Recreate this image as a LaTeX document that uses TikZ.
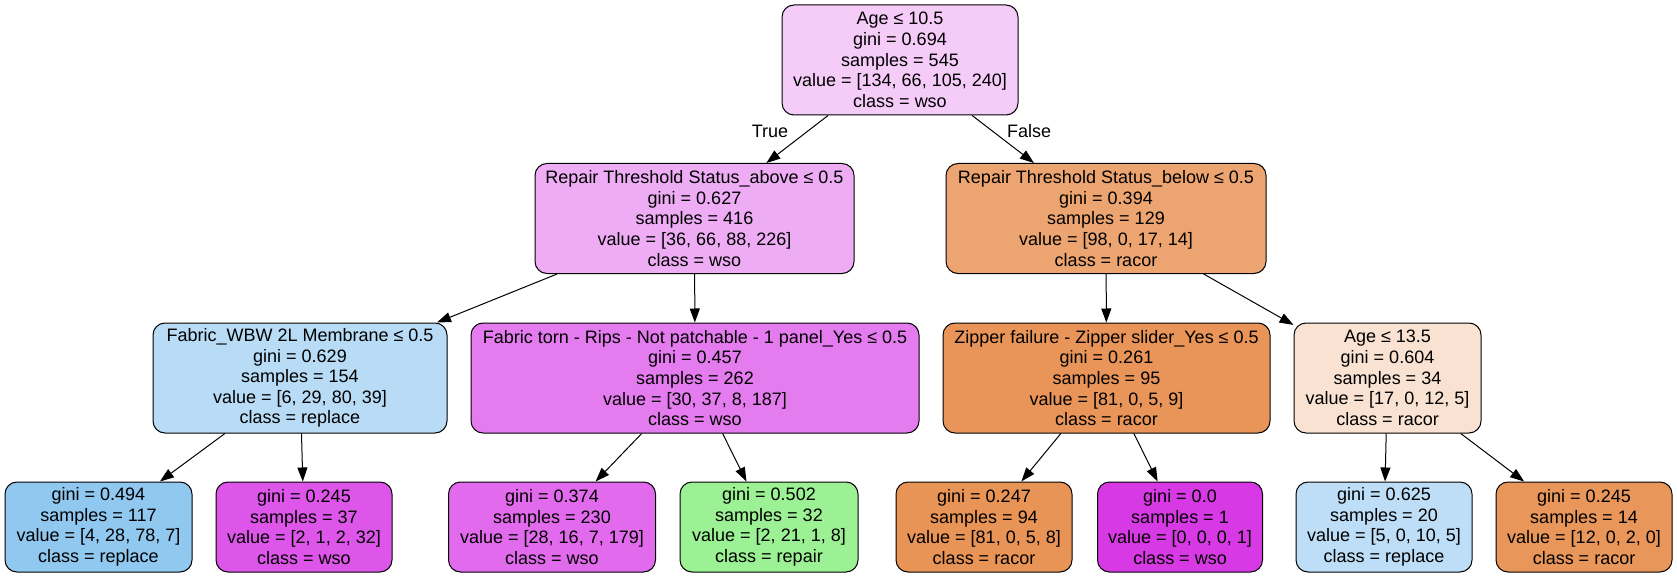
\documentclass[tikz,border=0pt]{standalone}
\usepackage{fontspec}
\setmainfont{Liberation Sans}
\usetikzlibrary{arrows.meta}

\definecolor{fillroot}{HTML}{F5CCF8}
\definecolor{fillabove}{HTML}{EEACF4}
\definecolor{fillbelow}{HTML}{ECA470}
\definecolor{fillfabric}{HTML}{B8DCF6}
\definecolor{filltorn}{HTML}{E47BEE}
\definecolor{fillzipper}{HTML}{E99559}
\definecolor{fillagetwo}{HTML}{F9E2D2}
\definecolor{fillleafa}{HTML}{90C8F0}
\definecolor{fillleafb}{HTML}{DD55E9}
\definecolor{fillleafc}{HTML}{E16BEC}
\definecolor{fillleafd}{HTML}{9BF194}
\definecolor{fillleafe}{HTML}{E99457}
\definecolor{fillleaff}{HTML}{D739E5}
\definecolor{fillleafg}{HTML}{BDDEF6}
\definecolor{fillleafh}{HTML}{E9965A}

\tikzset{
    treenode/.style={draw=black, line width=1pt, rounded corners=12pt, align=center,
        inner sep=0pt, minimum height=110pt, font=\fontsize{18}{20.6}\selectfont},
    leafnode/.style={treenode, minimum height=90pt},
    treeedge/.style={-{Triangle[length=14pt,width=10pt]}, line width=1pt},
}

\begin{document}
\begin{tikzpicture}[x=1pt,y=-1pt]
    \useasboundingbox (0,0) rectangle (1677,577);

    % splits
    \node[treenode, fill=fillroot, minimum width=236pt] (root) at (900,60)
        {Age ≤ 10.5\\gini = 0.694\\samples = 545\\value = [134, 66, 105, 240]\\class = wso};
    \node[treenode, fill=fillabove, minimum width=319pt] (above) at (694.5,218.5)
        {Repair Threshold Status\_above ≤ 0.5\\gini = 0.627\\samples = 416\\value = [36, 66, 88, 226]\\class = wso};
    \node[treenode, fill=fillbelow, minimum width=320pt] (below) at (1106,218.5)
        {Repair Threshold Status\_below ≤ 0.5\\gini = 0.394\\samples = 129\\value = [98, 0, 17, 14]\\class = racor};
    \node[treenode, fill=fillfabric, minimum width=294pt] (fabric) at (300,378)
        {Fabric\_WBW 2L Membrane ≤ 0.5\\gini = 0.629\\samples = 154\\value = [6, 29, 80, 39]\\class = replace};
    \node[treenode, fill=filltorn, minimum width=448pt] (torn) at (695,378)
        {Fabric torn - Rips - Not patchable - 1 panel\_Yes ≤ 0.5\\gini = 0.457\\samples = 262\\value = [30, 37, 8, 187]\\class = wso};
    \node[treenode, fill=fillzipper, minimum width=327pt] (zipper) at (1106.5,378)
        {Zipper failure - Zipper slider\_Yes ≤ 0.5\\gini = 0.261\\samples = 95\\value = [81, 0, 5, 9]\\class = racor};
    \node[treenode, fill=fillagetwo, minimum width=187pt] (agetwo) at (1387.5,378)
        {Age ≤ 13.5\\gini = 0.604\\samples = 34\\value = [17, 0, 12, 5]\\class = racor};

    % leaves
    \node[leafnode, fill=fillleafa, minimum width=187pt] (leafa) at (98.5,527)
        {gini = 0.494\\samples = 117\\value = [4, 28, 78, 7]\\class = replace};
    \node[leafnode, fill=fillleafb, minimum width=176pt] (leafb) at (304,527)
        {gini = 0.245\\samples = 37\\value = [2, 1, 2, 32]\\class = wso};
    \node[leafnode, fill=fillleafc, minimum width=207pt] (leafc) at (552,527)
        {gini = 0.374\\samples = 230\\value = [28, 16, 7, 179]\\class = wso};
    \node[leafnode, fill=fillleafd, minimum width=178pt] (leafd) at (769,527)
        {gini = 0.502\\samples = 32\\value = [2, 21, 1, 8]\\class = repair};
    \node[leafnode, fill=fillleafe, minimum width=176pt] (leafe) at (984,527)
        {gini = 0.247\\samples = 94\\value = [81, 0, 5, 8]\\class = racor};
    \node[leafnode, fill=fillleaff, minimum width=165pt] (leaff) at (1180,527)
        {gini = 0.0\\samples = 1\\value = [0, 0, 0, 1]\\class = wso};
    \node[leafnode, fill=fillleafg, minimum width=176pt] (leafg) at (1384,527)
        {gini = 0.625\\samples = 20\\value = [5, 0, 10, 5]\\class = replace};
    \node[leafnode, fill=fillleafh, minimum width=176pt] (leafh) at (1584,527)
        {gini = 0.245\\samples = 14\\value = [12, 0, 2, 0]\\class = racor};

    \foreach \a/\b in {root/above, root/below, above/fabric, above/torn,
        below/zipper, below/agetwo, fabric/leafa, fabric/leafb, torn/leafc,
        torn/leafd, zipper/leafe, zipper/leaff, agetwo/leafg, agetwo/leafh}
        \draw[treeedge] (\a) -- (\b);

    \node[font=\fontsize{18}{20}\selectfont] (true) at (770,131) {True};
    \node[font=\fontsize{18}{20}\selectfont] (false) at (1029,131) {False};
\end{tikzpicture}
\end{document}
